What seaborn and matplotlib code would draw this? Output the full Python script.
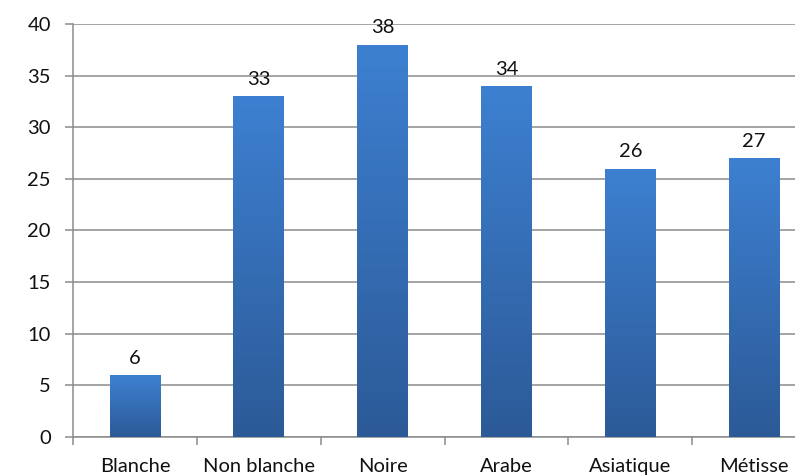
import numpy as np
import pandas as pd
import seaborn as sns
import matplotlib.pyplot as plt
from matplotlib.colors import LinearSegmentedColormap

categories = ["Blanche", "Non blanche", "Noire", "Arabe", "Asiatique", "Métisse"]
values = [6, 33, 38, 34, 26, 27]

sns.set_theme(style="white")
plt.rcParams['font.family'] = ['Lato', 'DejaVu Sans']

df = pd.DataFrame({"cat": categories, "val": values})

fig = plt.figure(figsize=(7.95, 4.76), dpi=100)
ax = fig.add_axes([73 / 795, 1 - 437 / 476, 743 / 795, 413 / 476])

sns.barplot(data=df, x="cat", y="val", color="#3A78C6", width=0.41, ax=ax,
            saturation=1, zorder=3)

# gradient fill on each bar, light at top to dark at bottom
cmap = LinearSegmentedColormap.from_list("bar", ["#2C5A97", "#3D80D1"])
grad = np.linspace(0, 1, 256).reshape(-1, 1)
for p in ax.patches:
    x0, y0 = p.get_x(), p.get_y()
    w, h = p.get_width(), p.get_height()
    im = ax.imshow(grad, cmap=cmap, aspect="auto", origin="lower",
                   extent=[x0, x0 + w, y0, y0 + h], zorder=4)
    im.set_clip_path(p)
    p.set_edgecolor("none")
    ax.annotate(f"{int(h)}", (x0 + w / 2, h), xytext=(0, 6),
                textcoords="offset points", ha="center", va="bottom",
                fontsize=14.5, color="#111111", zorder=5)

ax.set_xlim(-0.5, 5.5)
ax.set_ylim(0, 40)
ax.set_yticks(range(0, 41, 5))
ax.yaxis.grid(True, color="#8C8C8C", linewidth=1.1, zorder=0)
ax.set_axisbelow(True)

ax.set_xlabel("")
ax.set_ylabel("")
ax.tick_params(axis="y", labelsize=14.5, labelcolor="#111111", length=6,
               width=1.1, color="#8C8C8C", direction="out", left=True, pad=10)
ax.tick_params(axis="x", which="major", labelsize=14.5, labelcolor="#111111",
               length=0, pad=15)
ax.set_xticks(np.arange(-0.5, 6.0, 1.0), minor=True)
ax.tick_params(axis="x", which="minor", length=6, width=1.1,
               color="#8C8C8C", direction="out", bottom=True)

for s in ["top", "right"]:
    ax.spines[s].set_visible(False)
for s in ["left", "bottom"]:
    ax.spines[s].set_color("#8C8C8C")
    ax.spines[s].set_linewidth(1.1)

fig.savefig("out.png", dpi=100)
